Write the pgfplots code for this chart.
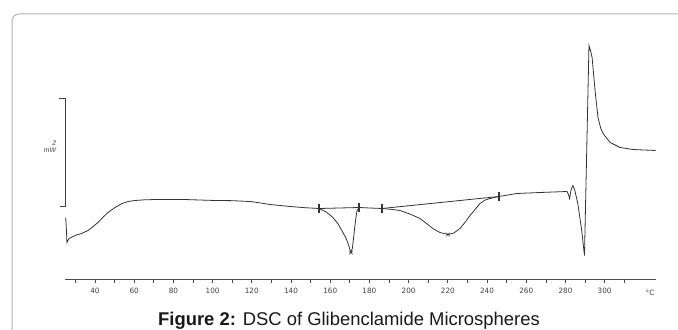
\documentclass[border=0pt]{standalone}
\usepackage{pgfplots}
\pgfplotsset{compat=1.18}
\usepackage{fontspec}
\setmainfont{Liberation Sans}
\newfontfamily\tickfont{DejaVu Sans}
\begin{document}
\begin{tikzpicture}[x=1bp,y=1bp]
\useasboundingbox (0,0) rectangle (678,329);
\begin{scope}
\clip (0,0) rectangle (678,329);
\draw[black!30, line width=1bp, rounded corners=7bp] (12,315) rectangle (720,-30);
\end{scope}
\begin{axis}[
  at={(65bp,49.5bp)}, anchor=south west,
  scale only axis, width=591bp, height=249bp,
  xmin=24.7, xmax=326.2, ymin=0, ymax=4.611,
  axis x line*=bottom, axis y line=none,
  x axis line style={black!70, line width=0.8bp},
  xtick={40,60,...,300},
  minor xtick={30,50,...,320},
  tick align=outside,
  major tick length=3.5bp, minor tick length=3.5bp,
  every tick/.style={black!70, line width=0.7bp},
  xticklabel style={font=\tickfont\fontsize{7.3}{8}\selectfont, text=black!75, yshift=-1.5bp},
  /pgf/number format/assume math mode=true,
  clip=false,
]
\addplot[black!80, line width=0.8bp] coordinates {
(25.05,1.148) (25.45,0.907) (25.70,0.685) (26.2,0.72) (26.73,0.759)
(29.80,0.815) (33.0,0.85) (36.43,0.907) (39.0,0.98) (41.53,1.056)
(44.0,1.15) (46.63,1.241) (50.2,1.333) (53.78,1.407) (57.0,1.445)
(60.41,1.463) (65.0,1.475) (70.61,1.481) (85.9,1.481) (101.2,1.463)
(110,1.46) (119.1,1.444) (124,1.42) (129.3,1.389) (139.5,1.352)
(147,1.33) (154.3,1.315)
(158,1.25) (161.4,1.148) (164,1.03) (166.5,0.870) (168,0.77)
(169.1,0.667) (170.0,0.56) (170.6,0.5) (171.3,0.58) (172.0,0.8)
(172.6,1.0) (173.2,1.17) (173.7,1.278) (174.7,1.333)
(180.3,1.324) (186.4,1.315)
(191,1.30) (195.6,1.278) (200.5,1.215) (205.8,1.130) (209,1.04)
(212.4,0.944) (216,0.87) (220.1,0.833) (223,0.86) (226.2,0.944)
(229,1.07) (231.3,1.185) (234,1.30) (236.4,1.407) (239,1.47)
(241.5,1.5) (246.1,1.537)
(255.3,1.593) (267.0,1.611) (280.8,1.630) (281.5,1.58) (282.1,1.5)
(282.8,1.648) (283.8,1.741) (284.8,1.648) (286.3,1.407) (288.3,0.907)
(289.7,0.444) (292.0,4.333) (292.8,4.24) (293.6,4.111) (295.1,3.5)
(296.6,3.0) (298,2.8) (299.2,2.704) (302.8,2.537) (307.9,2.444)
(314.5,2.407) (326.0,2.389)
};
% baselines
\addplot[black!80, line width=0.8bp] coordinates {(154.3,1.315) (174.7,1.333)};
\addplot[black!80, line width=0.8bp] coordinates {(186.4,1.315) (246.1,1.537)};
% limit markers
\addplot[only marks, mark=|, mark size=4.5bp, mark options={black!80, line width=1.3bp}] coordinates {(154.3,1.315) (174.7,1.333) (186.4,1.315) (246.1,1.537)};
% peak markers
\addplot[only marks, mark=x, mark size=2.5bp, mark options={black!80, line width=0.6bp}] coordinates {(170.6,0.5) (220.1,0.833)};
% scale bar (2 mW)
\addplot[black!75, line width=0.8bp] coordinates {(21.8,3.352) (24.7,3.352) (24.7,1.352) (22.1,1.352)};
\end{axis}
\node[align=right, inner sep=0pt, text=black!75, font=\itshape\fontsize{6.8}{7.2}\selectfont] at (50,182.5) {2\\mW};
\node[text=black!75, inner sep=0pt, font=\tickfont\fontsize{7.3}{8}\selectfont] at (650,36.5) {°C};
\node[anchor=base, inner sep=0pt, text=black!90] at (349,4) {\fontsize{18.5}{21}\selectfont\textbf{Figure 2:} DSC of Glibenclamide Microspheres};
\end{tikzpicture}
\end{document}
